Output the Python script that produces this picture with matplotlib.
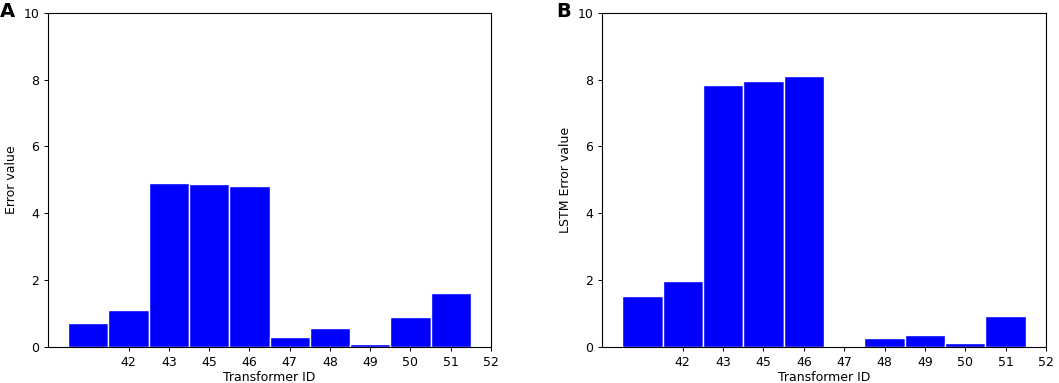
import matplotlib.pyplot as plt
import numpy as np

tick_labels = ["42", "43", "45", "46", "47", "48", "49", "50", "51", "52"]
error_a = [0.73, 1.11, 4.92, 4.87, 4.81, 0.29, 0.56, 0.09, 0.91, 1.63]
error_b = [1.53, 1.98, 7.84, 7.96, 8.12, 0.0, 0.28, 0.36, 0.12, 0.92]

fig = plt.figure(figsize=(10.59, 3.83), dpi=100)
W, H = 1059, 383

def panel(left_px, right_px, values, ylabel, letter, letter_x):
    ax = fig.add_axes([left_px / W, 1 - 347 / H, (right_px - left_px) / W, (347 - 12.7) / H])
    x = np.arange(len(values))
    ax.bar(x, values, width=1.0, color="blue", edgecolor="white", linewidth=1)
    ax.set_xlim(-1, 10)
    ax.set_ylim(0, 10)
    ax.set_xticks(np.arange(1, 11))
    ax.set_xticklabels(tick_labels)
    ax.set_yticks([0, 2, 4, 6, 8, 10])
    ax.tick_params(labelsize=9, length=3.2, width=0.7, pad=3)
    for s in ax.spines.values():
        s.set_linewidth(0.8)
    ax.set_xlabel("Transformer ID", fontsize=9, labelpad=2)
    ax.set_ylabel(ylabel, fontsize=9, labelpad=4)
    fig.text(letter_x / W, 1 - 2 / H, letter, fontsize=14, fontweight="bold", va="top", ha="left")
    return ax

panel(48, 491, error_a, "Error value", "A", 0)
panel(602, 1046, error_b, "LSTM Error value", "B", 556)

fig.savefig("out.png", dpi=100)
